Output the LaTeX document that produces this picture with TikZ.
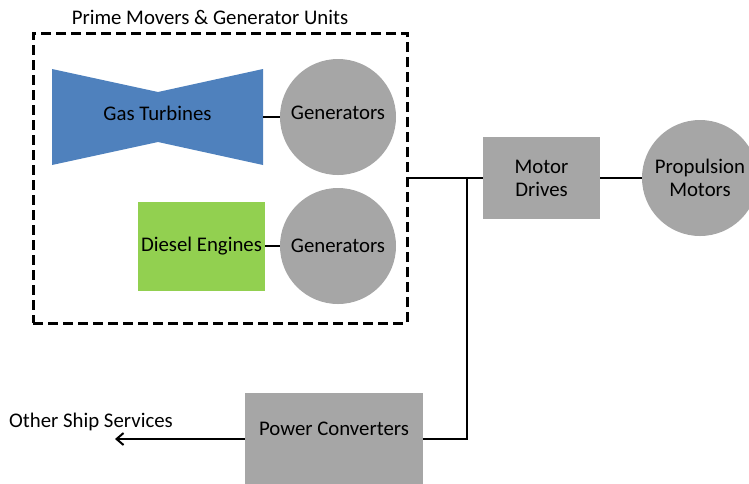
\documentclass[tikz,border=0pt]{standalone}
\usepackage{fontspec}
\setmainfont{Carlito}
\usetikzlibrary{arrows.meta}
\definecolor{turbineblue}{HTML}{4F81BD}
\definecolor{dieselgreen}{HTML}{92D050}
\definecolor{unitgray}{HTML}{A6A6A6}
\begin{document}
\begin{tikzpicture}[x=1pt,y=-1pt,
  font=\fontsize{20.8}{23}\selectfont,
  unit/.style={fill=unitgray, draw=none, align=center, inner sep=0pt},
  gen/.style={unit, circle, minimum size=116pt},
  link/.style={line width=2pt}]
\path[use as bounding box, clip] (0,0) rectangle (749,483);
\node[draw, line width=3pt, dash pattern=on 10pt off 5pt, minimum width=374pt, minimum height=290pt] (pm) at (220,178) {};
\node (pmtitle) at (210,17) {Prime Movers \& Generator Units};
\fill[turbineblue] (52,69) -- (158,92) -- (263,69) -- (263,165) -- (158,142) -- (52,165) -- cycle;
\node[inner sep=0pt, text depth=8pt, minimum width=211pt, minimum height=96pt] (gt) at (157.5,117) {Gas Turbines};
\node[gen, text depth=8pt] (gen1) at (338,117) {Generators};
\node[unit, fill=dieselgreen, minimum width=127pt, minimum height=89pt] (de) at (201.5,246) {Diesel Engines};
\node[gen] (gen2) at (338,246) {Generators};
\node[unit, minimum width=117pt, minimum height=82pt] (md) at (541.5,178) {Motor\\Drives};
\node[gen] (pmot) at (700,178) {Propulsion\\Motors};
\node[unit, text depth=20pt, minimum width=178pt, minimum height=92pt] (pc) at (334,439) {Power Converters};
\node (oss) at (91,422) {Other Ship Services};
\coordinate (ossend) at (115,439);
\coordinate (bus) at (467,178);
\draw[link] (gt) -- (gen1);
\draw[link] (de) -- (gen2);
\draw[link] (pm) -- (md);
\draw[link] (md) -- (pmot);
\draw[link] (pc.east) -| (bus);
\draw[link, -{Straight Barb[length=7pt,width=12pt]}] (pc) -- (ossend);
\end{tikzpicture}
\end{document}
